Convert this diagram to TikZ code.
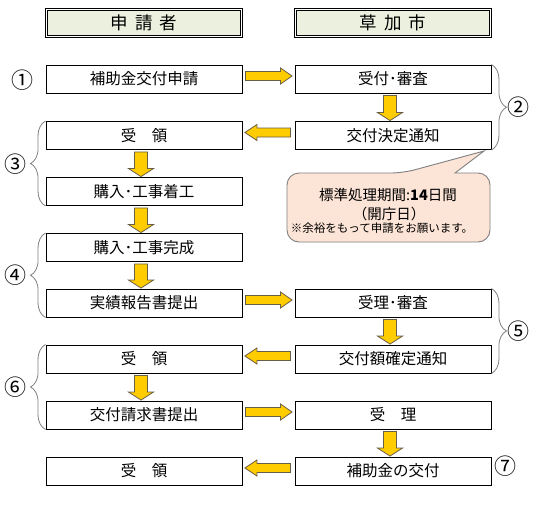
\documentclass[tikz,border=0pt]{standalone}
\usepackage{fontspec}
\setmainfont{Noto Sans CJK JP}
\usetikzlibrary{calc,decorations.pathreplacing}
\definecolor{hdr}{RGB}{235,241,222}
\definecolor{arrowfill}{RGB}{255,204,0}
\definecolor{arrowline}{RGB}{105,95,70}
\definecolor{calloutfill}{RGB}{252,228,214}
\definecolor{bracegray}{RGB}{128,128,128}
\tikzset{
 box/.style={draw=black, line width=0.9pt, minimum width=196pt, minimum height=28pt, inner sep=0pt, fill=white, font=\fontsize{15.5}{18}\selectfont},
 header/.style={draw=black, line width=0.7pt, double=white, double distance=1.6pt, fill=hdr, minimum width=195pt, minimum height=27pt, inner sep=0pt, font=\fontsize{17.5}{20}\selectfont},
 blockarrow/.style={fill=arrowfill, draw=arrowline, line width=0.8pt, line join=miter},
 stepbrace/.style={draw=bracegray, line width=0.8pt, decorate, decoration={brace, amplitude=15pt, aspect=0.5}},
 num/.style={font=\fontsize{22}{24}\selectfont, inner sep=0pt},
 calloutbox/.style={fill=calloutfill, draw=bracegray, line width=0.9pt},
 callouttext/.style={inner sep=0pt, font=\fontsize{14.5}{17}\selectfont},
}
\newcommand\darrow[2]{\draw[blockarrow] let \p1=(#1.south), \p2=(#2.north) in
 (\x1-9.5pt,\y1-2pt) -- (\x1+3.5pt,\y1-2pt) -- (\x1+3.5pt,\y2+8.5pt) -- (\x1+9.5pt,\y2+8.5pt)
 -- (\x1-3pt,\y2+0.5pt) -- (\x1-15.5pt,\y2+8.5pt) -- (\x1-9.5pt,\y2+8.5pt) -- cycle;}
\newcommand\rarrow[2]{\draw[blockarrow] let \p1=(#1.east), \p2=(#2.west) in
 (\x1+3pt,\y1+7.5pt) -- (\x2-14pt,\y1+7.5pt) -- (\x2-14pt,\y1+11pt) -- (\x2-2.5pt,\y1+3pt)
 -- (\x2-14pt,\y1-5pt) -- (\x2-14pt,\y1-1.5pt) -- (\x1+3pt,\y1-1.5pt) -- cycle;}
\newcommand\larrow[2]{\draw[blockarrow] let \p1=(#1.west), \p2=(#2.east) in
 (\x1-4pt,\y1+7.5pt) -- (\x2+14.5pt,\y1+7.5pt) -- (\x2+14.5pt,\y1+11pt) -- (\x2+2.5pt,\y1+3pt)
 -- (\x2+14.5pt,\y1-5pt) -- (\x2+14.5pt,\y1-1.5pt) -- (\x1-4pt,\y1-1.5pt) -- cycle;}
\begin{document}
\begin{tikzpicture}[x=1pt,y=-1pt]
\useasboundingbox[fill=white] (0,0) rectangle (538,504);
% headers
\node[header] (H1) at (144,23) {申\hspace{0.4em}請\hspace{0.4em}者};
\node[header] (H2) at (393,23) {草\hspace{0.4em}加\hspace{0.4em}市};
% left column
\node[box] (L1) at (144,79) {補助金交付申請};
\node[box] (L2) at (144,135.5) {受　領};
\node[box] (L3) at (144,191.5) {購入･工事着工};
\node[box] (L4) at (144,247.5) {購入･工事完成};
\node[box] (L5) at (144,303) {実績報告書提出};
\node[box] (L6) at (144,359) {受　領};
\node[box] (L7) at (144,415) {交付請求書提出};
\node[box] (L8) at (144,471) {受　領};
% right column
\node[box] (R1) at (393,79) {受付･審査};
\node[box] (R2) at (393,135.5) {交付決定通知};
\node[box] (R5) at (393,303) {受理･審査};
\node[box] (R6) at (393,359) {交付額確定通知};
\node[box] (R7) at (393,415) {受　理};
\node[box] (R8) at (393,471) {補助金の交付};
% horizontal arrows
\rarrow{L1}{R1}
\larrow{R2}{L2}
\rarrow{L5}{R5}
\larrow{R6}{L6}
\rarrow{L7}{R7}
\larrow{R8}{L8}
% vertical arrows
\darrow{R1}{R2}
\darrow{L2}{L3}
\darrow{L3}{L4}
\darrow{L4}{L5}
\darrow{R5}{R6}
\darrow{L6}{L7}
\darrow{R7}{R8}
% braces
\draw[stepbrace] (L3.south west) -- (L2.north west);
\draw[stepbrace] (L5.south west) -- (L4.north west);
\draw[stepbrace] (L7.south west) -- (L6.north west);
\draw[stepbrace] (R1.north east) -- (R2.south east);
\draw[stepbrace] (R5.north east) -- (R6.south east);
% numbers
\node[num] (n1) at (22.7,80) {①};
\node[num] (n2) at (518,107) {②};
\node[num] (n3) at (16,164) {③};
\node[num] (n4) at (16,275.5) {④};
\node[num] (n5) at (518,331) {⑤};
\node[num] (n6) at (16,387) {⑥};
\node[num] (n7) at (505,466) {⑦};
% callout
\coordinate (tip) at (484,151);
\draw[calloutbox] (287,207) [rounded corners=12pt] -- (287,173) -- (403,173) [sharp corners] -- (tip) -- (455,173) [rounded corners=12pt] -- (490,173) -- (490,242) -- (287,242) -- cycle;
\node[callouttext] (c1) at (388,195) {標準処理期間:\textbf{14}日間};
\node[callouttext] (c2) at (389,213.5) {（開庁日）};
\node[callouttext, font=\fontsize{11.5}{13}\selectfont] (c3) at (382,228.5) {※余裕をもって申請をお願います。};
\end{tikzpicture}
\end{document}
